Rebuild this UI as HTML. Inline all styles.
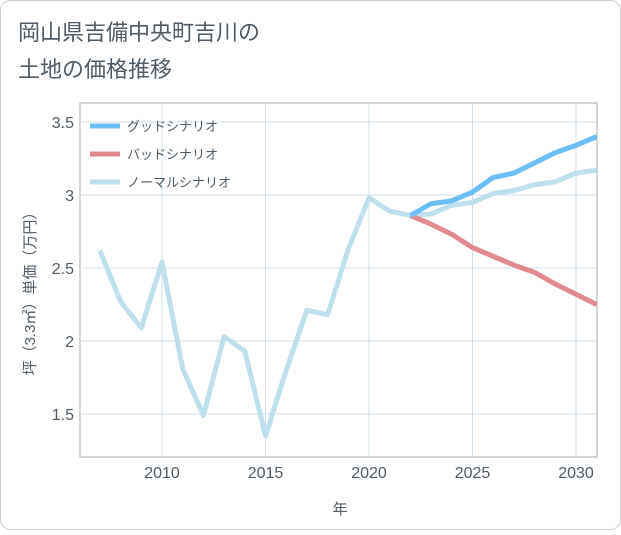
<!DOCTYPE html>
<html><head><meta charset="utf-8"><style>
body{margin:0;background:#fff;}
#wrap{position:relative;width:621px;height:530px;font-family:"Liberation Sans","Noto Sans CJK JP",sans-serif;}
</style></head><body>
<div id="wrap">
<svg id="chart" width="621" height="530">
<rect x="0.5" y="0.5" width="620" height="529" rx="10" fill="#fff" stroke="#ccc"/>
<text x="18" y="40" font-size="22" fill="#4f5b66">岡山県吉備中央町吉川の</text>
<text x="18" y="77" font-size="22" fill="#4f5b66">土地の価格推移</text>
<g id="grid"></g><g id="series"></g><g id="legend"></g>
<text x="340" y="514" font-size="15" fill="#4f5b66" text-anchor="middle">年</text>
<text transform="translate(35,290) rotate(-90)" font-size="15" fill="#4f5b66" text-anchor="middle">坪（3.3㎡）単価（万円）</text>
</svg></div>
<script>
const years=[2007,2008,2009,2010,2011,2012,2013,2014,2015,2016,2017,2018,2019,2020,2021,2022,2023,2024,2025,2026,2027,2028,2029,2030,2031];
const normalVals=[2.62,2.27,2.09,2.54,1.81,1.49,2.03,1.93,1.35,1.80,2.21,2.18,2.63,2.98,2.89,2.86,2.87,2.93,2.95,3.01,3.03,3.07,3.09,3.15,3.17];
const futureYears=[2022,2023,2024,2025,2026,2027,2028,2029,2030,2031];
const goodVals=[2.86,2.94,2.96,3.02,3.12,3.15,3.22,3.29,3.34,3.40];
const badVals=[2.86,2.80,2.73,2.64,2.58,2.52,2.47,2.39,2.32,2.25];
const xTicks=[2010,2015,2020,2025,2030];
const yTicks=[1.5,2,2.5,3,3.5];
const yTickLabels=["1.5","2","2.5","3","3.5"];
const legendLabels=["グッドシナリオ","バッドシナリオ","ノーマルシナリオ"];
const X0=80,X1=597,Y0=103,Y1=457;
const xs=y=>162+(y-2010)*20.7;
const ys=v=>195-(v-3)*146;
const NS="http://www.w3.org/2000/svg";
function mk(p,t,a){const e=document.createElementNS(NS,t);for(const k in a)e.setAttribute(k,a[k]);p.appendChild(e);return e;}
const grid=document.getElementById('grid');
const bg=mk(grid,'rect',{x:X0,y:Y0,width:X1-X0,height:Y1-Y0,fill:'#fff',stroke:'#aaa'});

xTicks.forEach(t=>{const x=xs(t);
const l=mk(grid,'line',{x1:x,x2:x,y1:Y0,y2:Y1,stroke:'#cfe0ea'});

const tx=mk(grid,'text',{x:x,y:478,'font-size':16,fill:'#4f5b66','text-anchor':'middle'});tx.textContent=t;
});
yTicks.forEach((t,i)=>{const y=ys(t);
const l=mk(grid,'line',{x1:X0,x2:X1,y1:y,y2:y,stroke:'#cfe0ea'});

const tx=mk(grid,'text',{x:74,y:y+6,'font-size':16,fill:'#4f5b66','text-anchor':'end'});tx.textContent=yTickLabels[i];
});
const ser=document.getElementById('series');
ser.setAttribute('clip-path','url(#clip)');
const defs=mk(document.getElementById('chart'),'defs',{});const cp=mk(defs,'clipPath',{id:'clip'});mk(cp,'rect',{x:X0,y:Y0,width:X1-X0,height:Y1-Y0});
function line(xsArr,vals,color,name){const d=vals.map((v,i)=>(i?'L':'M')+xs(xsArr[i])+','+ys(v)).join('');
const p=mk(ser,'path',{d:d,fill:'none',stroke:color,'stroke-width':5,'stroke-linejoin':'round'});
}
line(years,normalVals,'#bde0ec','normal-scenario-line');
line(futureYears,badVals,'#e08a90','bad-scenario-line');
line(futureYears,goodVals,'#6cbff5','good-scenario-line');
const colors=['#6cbff5','#e08a90','#bde0ec'];
const lg=document.getElementById('legend');
legendLabels.forEach((s,i)=>{const y=126+i*28;
const l=mk(lg,'line',{x1:90,x2:120,y1:y,y2:y,stroke:colors[i],'stroke-width':5});

const t=mk(lg,'text',{x:127,y:y+5,'font-size':13,fill:'#4f5b66'});t.textContent=s;
});
</script>
</body></html>
